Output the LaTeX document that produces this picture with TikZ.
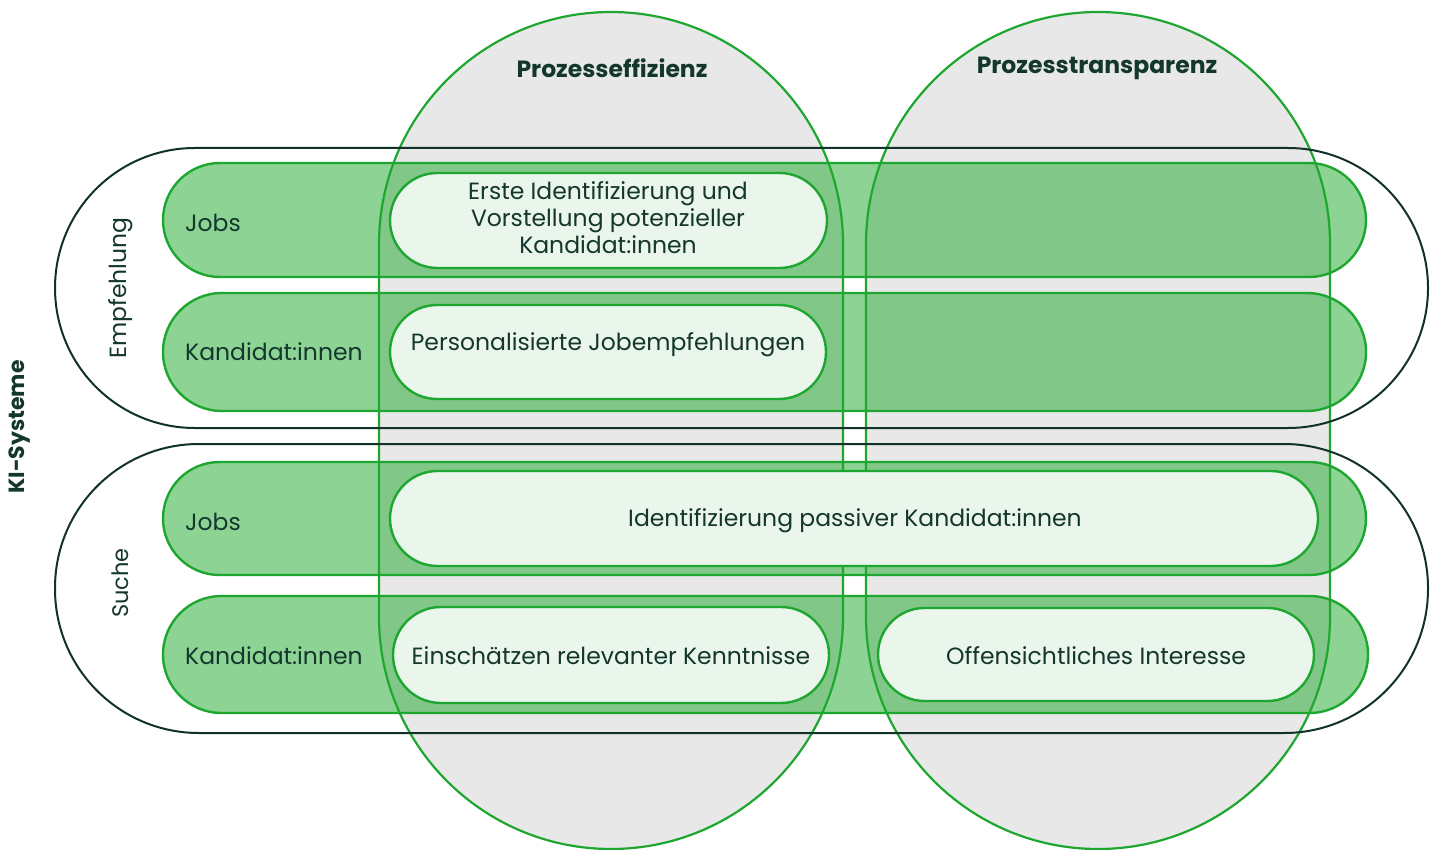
\documentclass[tikz,border=0pt]{standalone}
\usepackage{fontspec}
\setmainfont{Poppins}
\definecolor{gstroke}{RGB}{30,167,48}
\definecolor{grow}{RGB}{30,169,45}
\definecolor{gcol}{RGB}{232,232,232}
\definecolor{dline}{RGB}{16,50,40}
\definecolor{txt}{RGB}{20,55,45}
\definecolor{pillfill}{RGB}{234,245,236}
\tikzset{
  colshape/.style={fill=gcol, draw=gstroke, line width=2.2pt},
  outershape/.style={draw=dline, line width=2pt},
  rowshape/.style={fill=grow, fill opacity=0.51, draw=gstroke, line width=2.4pt},
  pillshape/.style={fill=pillfill, draw=gstroke, line width=2.4pt},
  lbl/.style={text=txt, font=\fontsize{23.5}{27}\selectfont, inner sep=0pt},
  ttl/.style={text=txt, font=\fontsize{23.5}{27}\selectfont\bfseries, inner sep=0pt},
  pilltxt/.style={text=txt, font=\fontsize{23.5}{27}\selectfont, align=center, inner sep=0pt},
}
\begin{document}
\begin{tikzpicture}[x=1pt,y=-1pt]
\useasboundingbox (0,0) rectangle (1435,850);
\clip (0,0) rectangle (1435,850);
% columns
\draw[colshape, rounded corners=232pt] (379,12) rectangle (843,849);
\draw[colshape, rounded corners=232pt] (866,12) rectangle (1330,849);
% outer groups
\draw[outershape, rounded corners=140pt] (55,148) rectangle (1428,428);
\draw[outershape, rounded corners=144pt] (55,444) rectangle (1428,733);
% rows
\draw[rowshape, rounded corners=57pt] (163,163) rectangle (1366,277);
\draw[rowshape, rounded corners=59pt] (163,293) rectangle (1366,411);
\draw[rowshape, rounded corners=56.5pt] (163,462) rectangle (1366,575);
\draw[rowshape, rounded corners=58.5pt] (163,596) rectangle (1368,713);
% pills
\draw[pillshape, rounded corners=47.5pt] (390,173) rectangle (827,268);
\draw[pillshape, rounded corners=47pt] (390,305) rectangle (826,399);
\draw[pillshape, rounded corners=47.5pt] (390,471) rectangle (1318,566);
\draw[pillshape, rounded corners=48pt] (393,607) rectangle (829,703);
\draw[pillshape, rounded corners=46.5pt] (878,608) rectangle (1314,701);
% texts
\node[ttl] (t1) at (612,68) {Prozesseffizienz};
\node[ttl] (t2) at (1097,68) {Prozesstransparenz};
\node[ttl, rotate=90, font=\fontsize{22}{26}\selectfont\bfseries] (ki) at (20,427) {KI-Systeme};
\node[lbl, rotate=90] (emp) at (121,288) {Empfehlung};
\node[lbl, rotate=90, font=\fontsize{22.5}{26}\selectfont] (such) at (120,583) {Suche};
\node[lbl, anchor=west] (j1) at (185,223) {Jobs};
\node[lbl, anchor=west] (k1) at (185,352) {Kandidat:innen};
\node[lbl, anchor=west] (j2) at (185,522) {Jobs};
\node[lbl, anchor=west] (k2) at (185,656) {Kandidat:innen};
\node[pilltxt] (p1) at (608,218) {Erste Identifizierung und\\Vorstellung potenzieller\\Kandidat:innen};
\node[pilltxt] (p2) at (608,345) {Personalisierte Jobempfehlungen};
\node[pilltxt] (p3) at (855,521) {Identifizierung passiver Kandidat:innen};
\node[pilltxt] (p4) at (611,656) {Einschätzen relevanter Kenntnisse};
\node[pilltxt] (p5) at (1096,656) {Offensichtliches Interesse};
\end{tikzpicture}
\end{document}
